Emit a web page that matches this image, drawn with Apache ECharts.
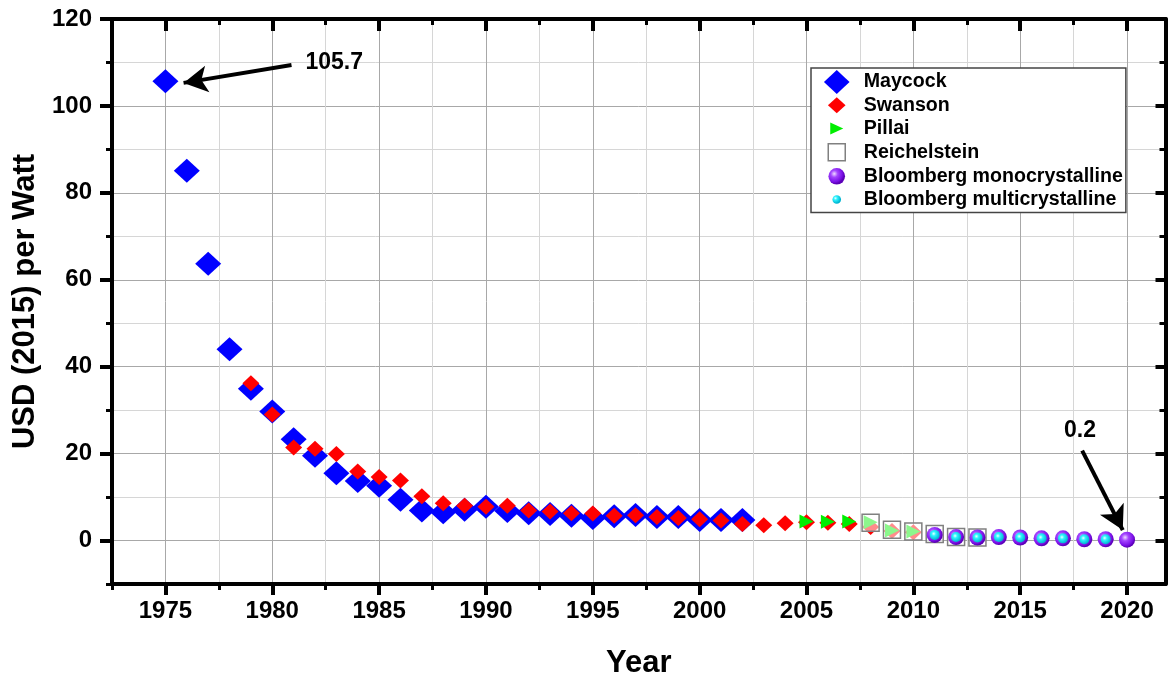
<!DOCTYPE html>
<html>
<head>
<meta charset="utf-8">
<script src="https://cdn.jsdelivr.net/npm/echarts@6/dist/echarts.min.js"></script>
<style>
  html, body { margin: 0; padding: 0; background: #fff; }
  #chart { width: 1169px; height: 679px; }
</style>
</head>
<body>
<div id="chart"></div>
<script>
// Module price history, USD (2015) per Watt
const maycockYears = [1975, 1976, 1977, 1978, 1979, 1980, 1981, 1982, 1983, 1984, 1985, 1986, 1987, 1988,
                      1989, 1990, 1991, 1992, 1993, 1994, 1995, 1996, 1997, 1998, 1999, 2000, 2001, 2002];
const maycockValues = [105.7, 85.1, 63.7, 44.0, 34.9, 29.7, 23.3, 19.5, 15.5, 13.7, 12.6, 9.4, 6.9, 6.5,
                       7.1, 7.8, 6.8, 6.3, 6.1, 5.7, 5.2, 5.6, 5.9, 5.4, 5.4, 4.7, 4.7, 4.7];

const swansonYears = [1979, 1980, 1981, 1982, 1983, 1984, 1985, 1986, 1987, 1988, 1989, 1990, 1991, 1992,
                      1993, 1994, 1995, 1996, 1997, 1998, 1999, 2000, 2001, 2002, 2003, 2004, 2005, 2006,
                      2007, 2008, 2009, 2010];
const swansonValues = [36.2, 29.0, 21.4, 21.1, 19.9, 15.9, 14.6, 13.8, 10.2, 8.6, 8.0, 7.8, 8.0, 6.9,
                       6.7, 6.3, 6.2, 5.7, 5.8, 5.4, 5.2, 4.9, 4.6, 3.8, 3.5, 4.0, 4.2, 4.1,
                       3.8, 3.1, 2.2, 1.9];

const pillaiYears = [2005, 2006, 2007, 2008, 2009, 2010];
const pillaiValues = [4.4, 4.3, 4.4, 4.2, 2.3, 2.1];

const reichelsteinYears = [2008, 2009, 2010, 2011, 2012, 2013];
const reichelsteinValues = [4.1, 2.5, 2.1, 1.5, 0.8, 0.7];

const monoYears = [2011, 2012, 2013, 2014, 2015, 2016, 2017, 2018, 2019, 2020];
const monoValues = [1.3, 0.8, 0.7, 0.8, 0.7, 0.5, 0.5, 0.3, 0.3, 0.2];

const multiYears = [2011, 2012, 2013, 2014, 2015, 2016, 2017, 2018, 2019];
const multiValues = [1.3, 0.8, 0.7, 0.8, 0.7, 0.5, 0.5, 0.3, 0.3];

// Axis ticks
const xMajorTicks = [1975, 1980, 1985, 1990, 1995, 2000, 2005, 2010, 2015, 2020];
const xMinorTicks = [1972.5, 1977.5, 1982.5, 1987.5, 1992.5, 1997.5, 2002.5, 2007.5, 2012.5, 2017.5];
const yMajorTicks = [0, 20, 40, 60, 80, 100, 120];
const yMinorTicks = [-10, 10, 30, 50, 70, 90, 110];

const seriesNames = ['Maycock', 'Swanson', 'Pillai', 'Reichelstein',
                     'Bloomberg monocrystalline', 'Bloomberg multicrystalline'];

const FONT = '"Liberation Sans", Arial, sans-serif';
const X_MIN = 1972.5, X_MAX = 2021.8, Y_MIN = -10, Y_MAX = 120;

const pairs = (xs, ys) => xs.map((x, i) => [x, ys[i]]);

// Shaded spheres
const purpleBall = {
  type: 'radial', x: 0.38, y: 0.36, r: 0.62,
  colorStops: [
    { offset: 0, color: '#eedcff' },
    { offset: 0.35, color: '#a445ff' },
    { offset: 0.8, color: '#7a10e6' },
    { offset: 1, color: '#5c00b8' }
  ]
};
const cyanBall = {
  type: 'radial', x: 0.4, y: 0.38, r: 0.62,
  colorStops: [
    { offset: 0, color: '#f0ffff' },
    { offset: 0.35, color: '#2ff4ff' },
    { offset: 1, color: '#00b4d0' }
  ]
};

// Legend icons share one box; invisible move-to points fix the box so each glyph keeps its own size
const IW = 44, IH = 24, CX = 22, CY = 12;
const box = body => 'path://M0,0M' + IW + ',' + IH + body;
const diamondIcon = (hw, hh) => box(`M${CX},${CY - hh}L${CX + hw},${CY}L${CX},${CY + hh}L${CX - hw},${CY}Z`);
const triRightIcon = (w, h) => box(`M${CX - w / 2},${CY - h / 2}L${CX + w / 2},${CY}L${CX - w / 2},${CY + h / 2}Z`);
const squareIcon = h => box(`M${CX - h},${CY - h}L${CX + h},${CY - h}L${CX + h},${CY + h}L${CX - h},${CY + h}Z`);
const circleIcon = r => box(`M${CX - r},${CY}A${r},${r} 0 1,0 ${CX + r},${CY}A${r},${r} 0 1,0 ${CX - r},${CY}Z`);

const iconBall = (stops, r) => ({
  type: 'radial', x: (CX - r * 0.3) / IW, y: (CY - r * 0.3) / IH, r: (r * 1.2) / IH,
  colorStops: stops
});

function axisBase(pos) {
  const horizontal = pos === 'top' || pos === 'bottom';
  return {
    type: 'value', position: pos, gridIndex: 0,
    min: horizontal ? X_MIN : Y_MIN,
    max: horizontal ? X_MAX : Y_MAX,
    axisLine: { show: false, onZero: false },
    axisLabel: { show: false },
    splitLine: { show: false },
    axisTick: { show: false }
  };
}

function tickAxis(pos, values, opts) {
  const a = axisBase(pos);
  a.axisTick = {
    show: true, inside: !!opts.inside, length: opts.length, customValues: values,
    lineStyle: { color: '#000', width: opts.width }
  };
  if (opts.line) a.axisLine = { show: true, onZero: false, lineStyle: { color: '#000', width: 4 } };
  if (opts.grid) a.splitLine = { show: true, lineStyle: { color: opts.grid, width: 1 } };
  if (opts.labels) {
    a.axisLabel = {
      show: true, customValues: values, color: '#000', fontFamily: FONT, fontWeight: 'bold',
      fontSize: 24, margin: opts.margin, formatter: v => String(v)
    };
  }
  return a;
}

const xMain = tickAxis('bottom', xMajorTicks, { length: 11, width: 4, line: true, grid: '#a8a8a8', labels: true, margin: 15 });
xMain.name = 'Year';
xMain.nameLocation = 'middle';
xMain.nameGap = 64;
xMain.nameTextStyle = { color: '#000', fontFamily: FONT, fontWeight: 'bold', fontSize: 31 };

const yMain = tickAxis('left', yMajorTicks, { length: 12, width: 4, line: true, grid: '#a8a8a8', labels: true, margin: 20 });
yMain.name = 'USD (2015) per Watt';
yMain.nameLocation = 'middle';
yMain.nameGap = 64;
yMain.nameTextStyle = { color: '#000', fontFamily: FONT, fontWeight: 'bold', fontSize: 31 };

const xAxes = [
  xMain,
  tickAxis('bottom', xMinorTicks, { length: 6, width: 3, grid: '#d6d6d6' }),
  tickAxis('top', xMajorTicks, { length: 12, width: 4, inside: true, line: true }),
  tickAxis('top', xMinorTicks, { length: 6, width: 3, inside: true })
];
const yAxes = [
  yMain,
  tickAxis('left', yMinorTicks, { length: 6, width: 3, grid: '#d6d6d6' }),
  tickAxis('right', yMajorTicks, { length: 10, width: 4, inside: true, line: true }),
  tickAxis('right', yMinorTicks, { length: 6, width: 3, inside: true })
];

const annotationLabel = {
  show: true, position: 'inside', formatter: '{c}', color: '#000',
  fontFamily: FONT, fontWeight: 'bold', fontSize: 23
};
const arrowStyle = {
  silent: true, animation: false, symbol: ['none', 'arrow'], symbolSize: [20, 24],
  label: { show: false }, emphasis: { disabled: true },
  lineStyle: { color: '#000', width: 4, type: 'solid', opacity: 1 }
};

// Annotated end points of the record
const firstYear = maycockYears[0], firstValue = maycockValues[0];
const lastYear = monoYears[monoYears.length - 1], lastValue = monoValues[monoValues.length - 1];

const base = { type: 'scatter', xAxisIndex: 0, yAxisIndex: 0, emphasis: { disabled: true }, animation: false };

const option = {
  backgroundColor: '#fff',
  animation: false,
  grid: { left: 112, top: 19, right: 3.5, bottom: 95, containLabel: false, outerBoundsMode: 'none' },
  xAxis: xAxes,
  yAxis: yAxes,
  legend: {
    orient: 'vertical', left: 811, top: 68,
    padding: [2, 3, 1, 3],
    itemWidth: IW, itemHeight: IH, itemGap: -0.8,
    backgroundColor: '#fff', borderColor: '#444', borderWidth: 1.5,
    selectedMode: false,
    textStyle: { color: '#000', fontFamily: FONT, fontWeight: 'bold', fontSize: 19.6 },
    data: [
      { name: seriesNames[0], icon: diamondIcon(12.8, 12), itemStyle: { color: '#0000ff' } },
      { name: seriesNames[1], icon: diamondIcon(8.8, 8), itemStyle: { color: '#ff0000' } },
      { name: seriesNames[2], icon: triRightIcon(13, 12), itemStyle: { color: '#00ee00' } },
      { name: seriesNames[3], icon: squareIcon(8.5), itemStyle: { color: '#ffffff', borderColor: '#808080', borderWidth: 1.5 } },
      { name: seriesNames[4], icon: circleIcon(8.3), itemStyle: { color: iconBall(purpleBall.colorStops, 8.3) } },
      { name: seriesNames[5], icon: circleIcon(4.3), itemStyle: { color: iconBall(cyanBall.colorStops, 4.3) } }
    ]
  },
  series: [
    Object.assign({}, base, {
      name: seriesNames[0], data: pairs(maycockYears, maycockValues),
      symbol: 'diamond', symbolSize: [26, 24],
      itemStyle: { color: '#0000ff', opacity: 1 },
      markLine: Object.assign({}, arrowStyle, {
        data: [[{ coord: [firstYear + 5.9, firstValue + 3.7] }, { coord: [firstYear + 0.85, firstValue - 0.4] }]]
      }),
      markPoint: {
        silent: true, animation: false, symbol: 'circle', symbolSize: 1,
        itemStyle: { color: 'rgba(0,0,0,0)' }, label: annotationLabel,
        data: [{ coord: [firstYear + 7.9, firstValue + 4.2], value: firstValue }]
      }
    }),
    Object.assign({}, base, {
      name: seriesNames[1], data: pairs(swansonYears, swansonValues),
      symbol: 'diamond', symbolSize: [17, 16],
      itemStyle: { color: '#ff0000', opacity: 1 }
    }),
    Object.assign({}, base, {
      name: seriesNames[2], data: pairs(pillaiYears, pillaiValues),
      symbol: 'triangle', symbolSize: [14, 14], symbolRotate: -90,
      itemStyle: { color: '#00ee00', opacity: 1 }
    }),
    Object.assign({}, base, {
      name: seriesNames[3], data: pairs(reichelsteinYears, reichelsteinValues),
      symbol: 'rect', symbolSize: 17,
      itemStyle: { color: 'rgba(255,255,255,0.55)', borderColor: '#808080', borderWidth: 1.5, opacity: 1 }
    }),
    Object.assign({}, base, {
      name: seriesNames[4], data: pairs(monoYears, monoValues),
      symbol: 'circle', symbolSize: 16,
      itemStyle: { color: purpleBall, opacity: 1 },
      markLine: Object.assign({}, arrowStyle, {
        data: [[{ coord: [lastYear - 2.1, lastValue + 20.5] }, { coord: [lastYear - 0.2, lastValue + 2.2] }]]
      }),
      markPoint: {
        silent: true, animation: false, symbol: 'circle', symbolSize: 1,
        itemStyle: { color: 'rgba(0,0,0,0)' }, label: annotationLabel,
        data: [{ coord: [lastYear - 2.2, lastValue + 25.1], value: lastValue }]
      }
    }),
    Object.assign({}, base, {
      name: seriesNames[5], data: pairs(multiYears, multiValues),
      symbol: 'circle', symbolSize: 10,
      itemStyle: { color: cyanBall, opacity: 1 }
    })
  ]
};

const chart = echarts.init(document.getElementById('chart'), null, { renderer: 'canvas' });
chart.setOption(option);
</script>
</body>
</html>
